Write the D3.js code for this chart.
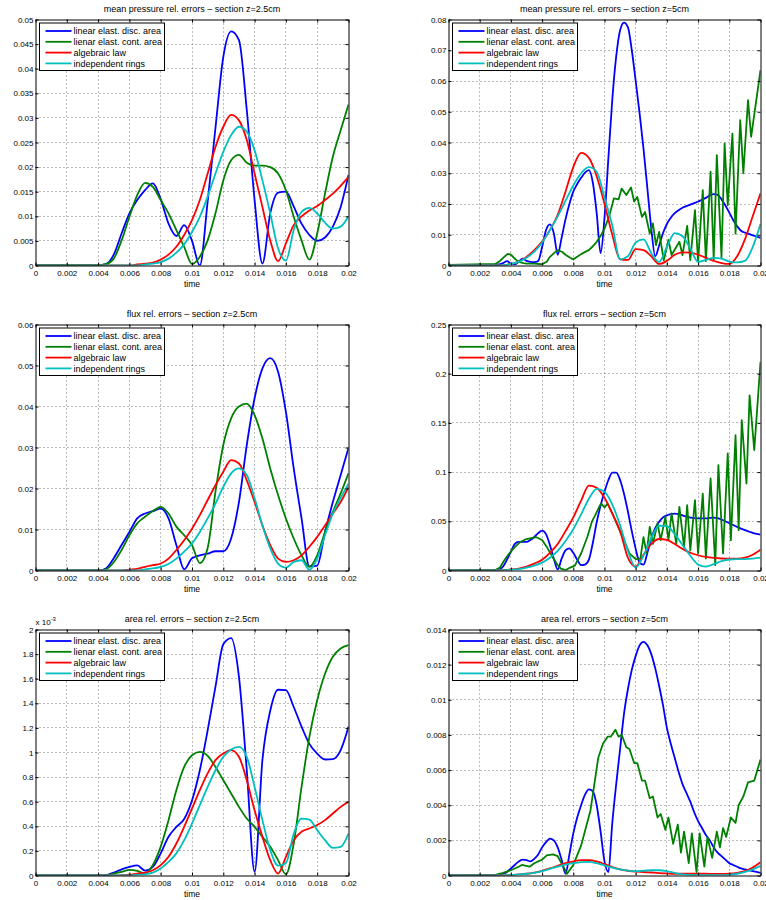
<!DOCTYPE html>
<html>
<head>
<meta charset="utf-8">
<script src="https://cdn.jsdelivr.net/npm/d3@7"></script>
<style>
  body { margin: 0; background: #fff; }
  svg { display: block; font-family: "Liberation Sans", Arial, Helvetica, sans-serif; }
</style>
</head>
<body>
<div id="wrapper"></div>
<script>
// time grids (coarse every 0.0005, fine every 0.00025)
const timeA = d3.range(41).map(i => +(i * 0.0005).toFixed(5));
const timeB = d3.range(81).map(i => +(i * 0.00025).toFixed(5));

const xTicks = [0, 0.002, 0.004, 0.006, 0.008, 0.01, 0.012, 0.014, 0.016, 0.018, 0.02];
const xLabels = ['0', '0.002', '0.004', '0.006', '0.008', '0.01', '0.012', '0.014', '0.016', '0.018', '0.02'];

const legendLabels = ['linear elast. disc. area', 'lienar elast. cont. area', 'algebraic law', 'independent rings'];
const colors = ['#0000ff', '#008000', '#ff0000', '#00bfbf'];

const titles = [
  'mean pressure rel. errors \u2013 section z=2.5cm',
  'mean pressure rel. errors \u2013 section z=5cm',
  'flux rel. errors \u2013 section z=2.5cm',
  'flux rel. errors \u2013 section z=5cm',
  'area rel. errors \u2013 section z=2.5cm',
  'area rel. errors \u2013 section z=5cm'
];

const yTicks1 = [0, 0.005, 0.01, 0.015, 0.02, 0.025, 0.03, 0.035, 0.04, 0.045, 0.05];
const yTicks2 = [0, 0.01, 0.02, 0.03, 0.04, 0.05, 0.06, 0.07, 0.08];
const yTicks3 = [0, 0.01, 0.02, 0.03, 0.04, 0.05, 0.06];
const yTicks4 = [0, 0.05, 0.1, 0.15, 0.2, 0.25];
const yTicks5 = [0, 0.2, 0.4, 0.6, 0.8, 1, 1.2, 1.4, 1.6, 1.8, 2];   // x 10^-3
const yTicks6 = [0, 0.002, 0.004, 0.006, 0.008, 0.01, 0.012, 0.014];

// ---- panel 1: mean pressure, z=2.5cm (timeA)
const p1Blue = [0,0,0,0.0001,0.0001,0.0001,0.0001,0.0001,0.0001,0.0003,0.0022,0.0065,0.0106,0.0133,0.0153,0.0167,0.0135,0.0085,0.006,0.0082,0.005,0,0.013,0.028,0.0424,0.0476,0.0458,0.0316,0.0133,0.0004,0.0106,0.0148,0.015,0.012,0.0085,0.0062,0.005,0.0057,0.0079,0.0119,0.0184];
const p1Green = [0,0.0001,0.0001,0.0001,0.0001,0.0001,0.0001,0.0001,0.0001,0.0003,0.0014,0.0051,0.0099,0.0143,0.0168,0.016,0.0133,0.0106,0.0072,0.0038,0.0003,0.0018,0.0051,0.0106,0.0173,0.0214,0.0225,0.0209,0.0203,0.0203,0.02,0.0187,0.0153,0.0099,0.0051,0.0012,0.0065,0.0146,0.0221,0.0275,0.0327];
const p1Red = [0,0,0,0,0,0,0,0,0,0,0,0,0,0.0002,0.0004,0.0006,0.0012,0.0022,0.0038,0.0062,0.0092,0.0133,0.0187,0.0241,0.0282,0.0306,0.0295,0.0255,0.0187,0.0119,0.0051,0.0009,0.0045,0.0082,0.01,0.0112,0.0121,0.0133,0.0146,0.0162,0.018];
const p1Cyan = [0,0,0,0,0,0,0,0,0,0,0,0,0,0,0.0002,0.0004,0.0007,0.0014,0.0026,0.0043,0.0068,0.0099,0.014,0.0187,0.0231,0.0265,0.0282,0.0272,0.0234,0.0173,0.0106,0.0035,0.001,0.0072,0.0109,0.0117,0.0106,0.0087,0.0075,0.0079,0.01];

// ---- panel 2: mean pressure, z=5cm
const p2Blue = [0.0001,0.0001,0.0001,0.0001,0.0001,0.0001,0.0001,0.0001,0.0001,0.0002,0.0002,0.0002,0.0003,0.0004,0.0008,0.0014,0.0006,0.0004,0.0012,0.0022,0.0015,0.0012,0.0011,0.0015,0.006,0.0115,0.0134,0.0105,0.0035,0.009,0.015,0.02,0.024,0.0265,0.0285,0.0302,0.031,0.027,0.017,0.004,0.0155,0.035,0.054,0.068,0.0765,0.079,0.0775,0.07,0.06,0.0495,0.038,0.025,0.012,0.003,0.0065,0.0105,0.0135,0.0155,0.017,0.018,0.0188,0.0193,0.0198,0.0203,0.0208,0.0214,0.022,0.0228,0.0232,0.023,0.0215,0.0195,0.0172,0.0148,0.0128,0.0113,0.0107,0.0103,0.0098,0.0094,0.009];
const p2GreenT = [0,0.003,0.0033,0.0035,0.0038,0.004,0.0043,0.0045,0.0048,0.005,0.0055,0.006,0.0063,0.0065,0.0068,0.007,0.0073,0.0075,0.0078,0.008,0.0083,0.0085,0.0088,0.009,0.0093,0.0095,0.0098,0.01,0.0103,0.0106,0.0109,0.0111,0.0114,0.0117,0.0119,0.0121,0.0124,0.0126,0.0129,0.0131,0.0133,0.0135,0.0138,0.0141,0.0143,0.0146,0.0148,0.015,0.0153,0.0155,0.0158,0.016,0.0163,0.0165,0.0168,0.017,0.0172,0.0175,0.0177,0.0179,0.0182,0.0184,0.0187,0.0189,0.0192,0.0194,0.02];
const p2Green = [0.0002,0.0005,0.0015,0.0025,0.0038,0.0035,0.002,0.0012,0.0008,0.0006,0.0006,0.0004,0.0012,0.0028,0.0042,0.005,0.0044,0.0035,0.0025,0.002,0.003,0.0037,0.0045,0.005,0.0065,0.0077,0.01,0.012,0.016,0.0218,0.0215,0.025,0.0229,0.0254,0.0208,0.0223,0.0158,0.0174,0.0104,0.0137,0.0066,0.0109,0.0017,0.0083,0.0034,0.006,0.0077,0.0034,0.0129,0.0017,0.018,0.0012,0.0245,0.0014,0.0305,0.002,0.0359,0.0026,0.0397,0.0196,0.0429,0.0104,0.0473,0.03,0.0538,0.0418,0.0635];
const p2Red = [0,0,0,0,0,0,0,0,0.0005,0.0012,0.0028,0.005,0.0078,0.0115,0.0165,0.024,0.032,0.0366,0.035,0.029,0.02,0.01,0.002,0.0018,0.0053,0.005,0.003,0.0005,0.0015,0.0035,0.0043,0.0042,0.0035,0.0025,0.0015,0.0008,0.0005,0.003,0.0085,0.016,0.0235];
const p2Cyan = [0,0,0,0,0,0,0,0,0.0005,0.0012,0.0025,0.0045,0.0075,0.0115,0.016,0.021,0.026,0.03,0.032,0.0305,0.022,0.013,0.002,0.003,0.0075,0.0085,0.004,0.0012,0.006,0.0105,0.0095,0.0055,0.0012,0.0018,0.0025,0.0022,0.0013,0.001,0.0015,0.006,0.0135];

// ---- panel 3: flux, z=2.5cm (timeA)
const p3Blue = [0,0,0,0,0,0,0,0,0,0.0005,0.003,0.0062,0.0094,0.0127,0.0139,0.0145,0.0151,0.0127,0.0062,0.0003,0.003,0.0037,0.0041,0.0047,0.0047,0.0078,0.0167,0.0306,0.042,0.0493,0.0518,0.0485,0.0387,0.0249,0.0127,0.001,0.0012,0.0094,0.0167,0.0233,0.0299];
const p3Green = [0,0,0,0,0,0,0,0,0,0.0003,0.002,0.005,0.0086,0.0115,0.0131,0.0145,0.0155,0.0139,0.0107,0.0086,0.0062,0.0018,0.0055,0.0192,0.0306,0.0371,0.04,0.0407,0.0379,0.0322,0.0249,0.0184,0.0127,0.0078,0.0037,0.0009,0.0037,0.0094,0.0143,0.0188,0.0237];
const p3Red = [0,0,0,0,0,0,0,0,0,0,0,0,0.0002,0.0004,0.0009,0.0013,0.0017,0.0029,0.005,0.0074,0.0102,0.0135,0.0172,0.0208,0.0241,0.0269,0.0261,0.022,0.0167,0.011,0.0062,0.0029,0.0021,0.0025,0.0037,0.0058,0.0082,0.011,0.0139,0.0167,0.0204];
const p3Cyan = [0,0,0,0,0,0,0,0,0,0,0,0,0,0,0.0003,0.0005,0.0009,0.0016,0.0029,0.0046,0.0066,0.0094,0.0127,0.0163,0.0204,0.0237,0.0249,0.0233,0.0176,0.011,0.0054,0.0017,0.0007,0.0021,0.0025,0.0002,0.0029,0.0086,0.0139,0.0177,0.0212];

// ---- panel 4: flux, z=5cm
const p4Blue = [0,0,0,0,0,0,0,0,0,0,0,0,0.0003,0.001,0.004,0.011,0.019,0.027,0.029,0.029,0.029,0.031,0.034,0.038,0.0405,0.037,0.026,0.012,0.001,0.012,0.0205,0.0224,0.018,0.011,0.0055,0.006,0.011,0.028,0.049,0.066,0.08,0.092,0.0995,0.0995,0.092,0.078,0.06,0.04,0.022,0.008,0.006,0.018,0.0325,0.043,0.0494,0.054,0.056,0.0572,0.0577,0.0572,0.056,0.0548,0.0538,0.0532,0.053,0.053,0.053,0.0535,0.0538,0.0532,0.0518,0.05,0.048,0.0462,0.0444,0.0426,0.041,0.0396,0.0383,0.0373,0.0365];
const p4GreenT = [0,0.003,0.0033,0.0036,0.0038,0.0042,0.0046,0.005,0.0056,0.006,0.0063,0.0067,0.007,0.0072,0.0075,0.0078,0.0081,0.0085,0.0089,0.0092,0.0094,0.0097,0.0098,0.01,0.0102,0.0106,0.0111,0.0116,0.012,0.0123,0.0125,0.0127,0.0129,0.0131,0.0134,0.0136,0.0139,0.0141,0.0143,0.0146,0.0148,0.0151,0.0153,0.0155,0.0158,0.016,0.0163,0.0165,0.0168,0.0171,0.0173,0.0176,0.0179,0.0181,0.0184,0.0186,0.0188,0.0191,0.0193,0.0196,0.02];
const p4Green = [0,0.0005,0.003,0.011,0.0155,0.023,0.029,0.032,0.034,0.031,0.024,0.013,0.0054,0.002,0.0003,0.003,0.005,0.0173,0.034,0.05,0.056,0.066,0.068,0.064,0.068,0.0545,0.0359,0.0173,0.0115,0.012,0.034,0.0173,0.0443,0.027,0.048,0.0308,0.0545,0.031,0.058,0.027,0.0647,0.0238,0.0664,0.0205,0.0715,0.0173,0.078,0.0122,0.0935,0.0054,0.107,0.0173,0.119,0.0308,0.1375,0.041,0.1527,0.0884,0.178,0.1223,0.212];
const p4Red = [0,0,0,0,0,0,0,0.0005,0.001,0.002,0.004,0.007,0.011,0.018,0.027,0.04,0.054,0.071,0.0862,0.084,0.074,0.058,0.04,0.013,0.004,0.016,0.027,0.032,0.031,0.027,0.022,0.018,0.0155,0.0138,0.0128,0.0122,0.012,0.012,0.013,0.016,0.021];
const p4Cyan = [0,0,0,0,0,0,0,0.0003,0.0008,0.0015,0.003,0.005,0.008,0.013,0.02,0.03,0.042,0.057,0.073,0.083,0.08,0.067,0.046,0.02,0.003,0.015,0.033,0.0455,0.045,0.037,0.026,0.015,0.006,0.004,0.0065,0.0095,0.0112,0.0115,0.0115,0.012,0.013];

// ---- panel 5: area, z=2.5cm, values in units of 1e-3 (timeA)
const p5Blue = [0,0,0,0,0,0,0,0,0,0.003,0.024,0.05,0.07,0.082,0.04,0.07,0.18,0.315,0.395,0.46,0.61,0.856,1.18,1.535,1.88,1.93,1.615,0.856,0.03,0.94,1.34,1.51,1.507,1.37,1.21,1.07,0.99,0.943,0.946,1.02,1.21];
const p5Green = [0,0,0,0,0,0,0,0,0,0,0.015,0.03,0.045,0.038,0.016,0.085,0.235,0.45,0.694,0.883,0.978,1.005,0.973,0.883,0.775,0.667,0.558,0.463,0.396,0.314,0.233,0.125,0.01,0.26,0.72,1.127,1.425,1.64,1.778,1.846,1.873];
const p5Red = [0,0,0,0,0,0,0,0,0,0,0,0.003,0.006,0.016,0.024,0.043,0.084,0.152,0.26,0.396,0.545,0.694,0.83,0.938,0.992,1.02,0.965,0.775,0.53,0.314,0.125,0.016,0.152,0.287,0.355,0.382,0.41,0.45,0.504,0.558,0.6];
const p5Cyan = [0,0,0,0,0,0,0,0,0,0,0,0,0,0.005,0.01,0.024,0.057,0.11,0.18,0.287,0.423,0.572,0.72,0.856,0.965,1.025,1.046,0.965,0.72,0.45,0.206,0.08,0.1,0.34,0.463,0.455,0.369,0.287,0.225,0.233,0.34];

// ---- panel 6: area, z=5cm
const p6Blue = [0,0,0,0,0,0,0,0,0,0,0,0,0.00002,0.00005,0.0001,0.0002,0.0004,0.0006,0.0008,0.0009,0.00088,0.0008,0.00095,0.0012,0.0016,0.0019,0.0021,0.002,0.0016,0.0009,0.0001,0.0012,0.0024,0.0033,0.004,0.0046,0.0049,0.0048,0.004,0.0025,0.0008,0.0002,0.003,0.0052,0.0072,0.0092,0.0106,0.0117,0.0125,0.0131,0.0133,0.0131,0.0126,0.0118,0.0108,0.0097,0.0084,0.0075,0.0067,0.0059,0.0052,0.0047,0.0042,0.0036,0.0031,0.0027,0.0023,0.002,0.0016,0.0013,0.0011,0.0009,0.0007,0.0006,0.0005,0.0004,0.00035,0.0003,0.00025,0.0002,0.00015];
const p6GreenT = [0,0.003,0.0035,0.004,0.0045,0.0047,0.0052,0.0055,0.006,0.0063,0.0067,0.007,0.0073,0.0076,0.008,0.0085,0.0091,0.0096,0.0099,0.0102,0.0104,0.0107,0.0109,0.0111,0.0114,0.0116,0.0119,0.0121,0.0124,0.0126,0.0129,0.0131,0.0134,0.0136,0.0139,0.0141,0.0144,0.0147,0.0149,0.0151,0.0154,0.0156,0.0159,0.0161,0.0164,0.0166,0.0169,0.0172,0.0174,0.0176,0.0178,0.0181,0.0184,0.0186,0.0189,0.0192,0.0196,0.02];
const p6Green = [0,0.00003,0.00015,0.0003,0.0005,0.0006,0.0005,0.0007,0.0009,0.00115,0.0012,0.0011,0.0006,0.0001,0.0006,0.0017,0.0037,0.0067,0.0075,0.0079,0.0079,0.0083,0.0079,0.008,0.0073,0.0072,0.0064,0.0064,0.0054,0.0054,0.0044,0.0045,0.0033,0.0035,0.0026,0.0033,0.0018,0.0029,0.0013,0.0025,0.0007,0.0024,0.0002,0.0024,0.0005,0.0022,0.001,0.0025,0.0016,0.0027,0.0022,0.0033,0.003,0.004,0.0045,0.0053,0.0054,0.0066];
const p6Red = [0,0,0,0,0,0,0,0,0.00003,0.00006,0.0001,0.00017,0.00027,0.0004,0.00055,0.0007,0.0008,0.00088,0.00088,0.0008,0.00065,0.00048,0.00035,0.00027,0.00022,0.0002,0.00017,0.00014,0.00012,0.0001,0.0001,0.0001,0.0001,0.0001,0.00009,0.00009,0.0001,0.00015,0.00025,0.00045,0.00075];
const p6Cyan = [0,0,0,0,0,0,0,0,0.00003,0.00006,0.0001,0.00015,0.00025,0.00038,0.0005,0.00062,0.0007,0.00076,0.00078,0.0007,0.00058,0.00045,0.00035,0.00028,0.00025,0.00027,0.0003,0.0003,0.00025,0.00015,0.00006,0.00003,0.00002,0.00002,0.00002,0.00002,0.00004,0.0001,0.0002,0.00035,0.00055];

// layout
const colX = [35.5, 448.5];
const colW = [313, 312];
const rowY = [19.5, 324.5, 629.5];
const plotH = 246;

const panels = [
  { col: 0, row: 0, yTicks: yTicks1, series: [[timeA, p1Blue], [timeA, p1Green], [timeA, p1Red], [timeA, p1Cyan]] },
  { col: 1, row: 0, yTicks: yTicks2, series: [[timeB, p2Blue], [p2GreenT, p2Green, true], [timeA, p2Red], [timeA, p2Cyan]] },
  { col: 0, row: 1, yTicks: yTicks3, series: [[timeA, p3Blue], [timeA, p3Green], [timeA, p3Red], [timeA, p3Cyan]] },
  { col: 1, row: 1, yTicks: yTicks4, series: [[timeB, p4Blue], [p4GreenT, p4Green, true], [timeA, p4Red], [timeA, p4Cyan]] },
  { col: 0, row: 2, yTicks: yTicks5, series: [[timeA, p5Blue], [timeA, p5Green], [timeA, p5Red], [timeA, p5Cyan]], exponent: true },
  { col: 1, row: 2, yTicks: yTicks6, series: [[timeB, p6Blue], [p6GreenT, p6Green, true], [timeA, p6Red], [timeA, p6Cyan]] }
];

const fontFamily = '"Liberation Sans", Arial, Helvetica, sans-serif';
const fmt = v => String(+v.toFixed(6));

const svg = d3.select('#wrapper')
  .append('svg')
  .attr('width', 766)
  .attr('height', 900);

panels.forEach(function (p, k) {
  const w = colW[p.col], h = plotH;
  const x = d3.scaleLinear().domain([0, 0.02]).range([0, w]);
  const y = d3.scaleLinear().domain([0, p.yTicks[p.yTicks.length - 1]]).range([h, 0]);

  const g = svg.append('g').attr('transform', 'translate(' + colX[p.col] + ',' + rowY[p.row] + ')');

  // title
  g.append('text')
    .attr('x', w / 2).attr('y', -8)
    .attr('text-anchor', 'middle')
    .attr('font-size', 9)
    .text(titles[k]);

  // dotted grid
  g.selectAll('.gx').data(xTicks.slice(1, -1)).enter().append('line')
    .attr('x1', d => Math.round(x(d))).attr('x2', d => Math.round(x(d)))
    .attr('y1', 0).attr('y2', h)
    .attr('stroke', '#555').attr('stroke-width', 0.8).attr('stroke-dasharray', '1,3');
  g.selectAll('.gy').data(p.yTicks.slice(1, -1)).enter().append('line')
    .attr('x1', 0).attr('x2', w)
    .attr('y1', d => Math.round(y(d))).attr('y2', d => Math.round(y(d)))
    .attr('stroke', '#555').attr('stroke-width', 0.8).attr('stroke-dasharray', '1,3');

  // curves
  g.append('clipPath').attr('id', 'clip' + k)
    .append('rect').attr('width', w).attr('height', h);
  const plot = g.append('g').attr('clip-path', 'url(#clip' + k + ')');
  p.series.forEach(function (s, i) {
    const line = d3.line()
      .x(d => x(d[0]))
      .y(d => y(d[1]))
      .curve(s[2] ? d3.curveLinear : d3.curveMonotoneX);
    plot.append('path')
      .datum(d3.zip(s[0], s[1]))
      .attr('d', line)
      .attr('fill', 'none')
      .attr('stroke', colors[i])
      .attr('stroke-width', 1.8)
      .attr('stroke-linejoin', 'round');
  });

  // axes with inward ticks on all sides
  const styleAxis = sel => sel.attr('font-size', 8).attr('font-family', fontFamily)
    .call(a => a.selectAll('path,line').attr('stroke', '#000'));
  g.append('g').attr('transform', 'translate(0,' + h + ')')
    .call(d3.axisBottom(x).tickValues(xTicks).tickFormat((d, i) => xLabels[i]).tickSize(-3).tickSizeOuter(0).tickPadding(5))
    .call(styleAxis);
  g.append('g')
    .call(d3.axisTop(x).tickValues(xTicks).tickFormat('').tickSize(-3).tickSizeOuter(0))
    .call(styleAxis);
  g.append('g')
    .call(d3.axisLeft(y).tickValues(p.yTicks).tickFormat(fmt).tickSize(-3).tickSizeOuter(0).tickPadding(2))
    .call(styleAxis);
  g.append('g').attr('transform', 'translate(' + w + ',0)')
    .call(d3.axisRight(y).tickValues(p.yTicks).tickFormat('').tickSize(-3).tickSizeOuter(0))
    .call(styleAxis);

  // x label
  g.append('text')
    .attr('x', w / 2).attr('y', h + 21.5)
    .attr('text-anchor', 'middle')
    .attr('font-size', 8.6)
    .text('time');

  if (p.exponent) {
    const t = g.append('text').attr('x', 0).attr('y', -4.5).attr('font-size', 8);
    t.append('tspan').text('x 10');
    t.append('tspan').attr('font-size', 6).attr('dy', -4).text('-3');
  }

  // legend
  const lg = g.append('g').attr('transform', 'translate(4,3.5)');
  lg.append('rect')
    .attr('width', 125).attr('height', 47.5)
    .attr('fill', '#fff').attr('stroke', '#000').attr('stroke-width', 1);
  legendLabels.forEach(function (lab, i) {
    const yy = 8 + i * 10.8;
    lg.append('line')
      .attr('x1', 6).attr('x2', 32).attr('y1', yy).attr('y2', yy)
      .attr('stroke', colors[i]).attr('stroke-width', 1.8);
    lg.append('text')
      .attr('x', 34).attr('y', yy).attr('dy', '0.35em')
      .attr('font-size', 9)
      .text(lab);
  });
});
</script>
</body>
</html>
